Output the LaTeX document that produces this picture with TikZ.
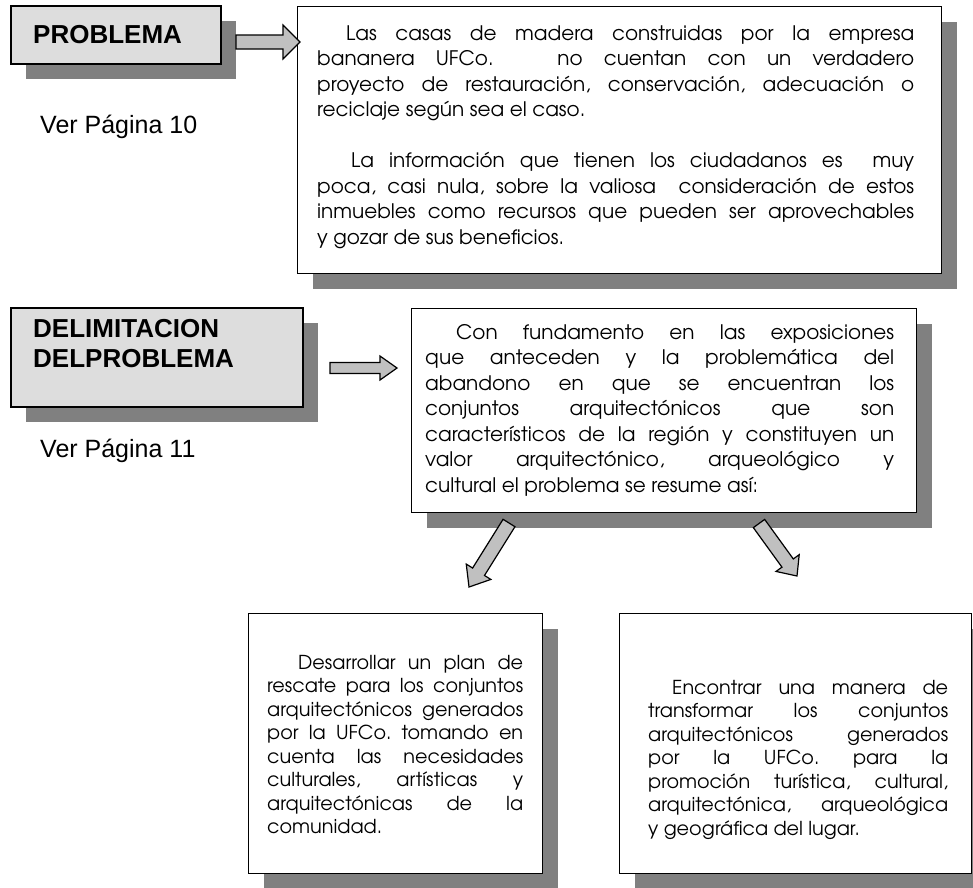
\documentclass[tikz,border=0pt]{standalone}
\usepackage{fontspec}
\setmainfont{Liberation Sans}
\newfontfamily\gothic{TeX Gyre Adventor}
\usetikzlibrary{calc,shadows}
\definecolor{shadowgray}{HTML}{808080}
\definecolor{labelgray}{HTML}{DDDDDD}
\definecolor{arrowgray}{HTML}{C0C0C0}
\frenchspacing
\newcommand\J[2]{\makebox[#1][s]{#2}}
\newcommand\blockarrow[5]{%
  \coordinate (#1-#2-h) at ($(#2)!#5!(#1)$);
  \draw[blockarrow] ($(#1)!#3!90:(#2)$) -- ($(#1-#2-h)!#3!90:(#2)$) -- ($(#1-#2-h)!#4!90:(#2)$) -- (#2) -- ($(#1-#2-h)!#4!-90:(#2)$) -- ($(#1-#2-h)!#3!-90:(#2)$) -- ($(#1)!#3!-90:(#2)$) -- cycle;}
\begin{document}
\begin{tikzpicture}[x=1pt,y=-1pt,
  shadowed/.style={drop shadow={shadow xshift=15pt,shadow yshift=-15pt,fill=shadowgray,opacity=1}},
  labelbox/.style={draw=black,line width=2.2pt,fill=labelgray,shadowed,anchor=north west,inner sep=0pt},
  textbox/.style={draw=black,line width=1.3pt,fill=white,shadowed,anchor=north west,inner sep=0pt},
  labeltext/.style={font=\fontsize{26}{30}\selectfont\bfseries,anchor=base west,inner sep=0pt},
  pagetext/.style={font=\fontsize{25}{30}\selectfont,anchor=base west,inner sep=0pt},
  body/.style={font=\gothic\frenchspacing\fontsize{20}{25.5}\selectfont,anchor=base west,inner sep=0pt},
  smallbody/.style={font=\gothic\frenchspacing\fontsize{19.2}{23.5}\selectfont,anchor=base west,inner sep=0pt},
  blockarrow/.style={draw=black,line width=1.2pt,fill=arrowgray,line join=miter}]
\useasboundingbox (0,0) rectangle (973,887);

% boxes
\node[labelbox,minimum width=210pt,minimum height=58pt] (pb) at (10,5) {};
\node[labelbox,minimum width=292pt,minimum height=99pt] (db) at (10,307) {};
\node[textbox,minimum width=644pt,minimum height=267pt] (tb) at (297,6) {};
\node[textbox,minimum width=505pt,minimum height=204pt] (mb) at (411,308) {};
\node[textbox,minimum width=294pt,minimum height=260pt] (lb) at (248,613) {};
\node[textbox,minimum width=352pt,minimum height=260pt] (rb) at (619,613) {};

% labels
\node[labeltext] (pl) at (33,43.5) {PROBLEMA};
\node[labeltext] (dl1) at (33,337) {DELIMITACION};
\node[labeltext] (dl2) at (33,367) {DELPROBLEMA};
\node[pagetext] (v1) at (40,133) {Ver Página 10};
\node[pagetext] (v2) at (40,457) {Ver Página 11};

% texts
\node[body] (tt) at (317,40) {\parbox[t]{597pt}{%
\J{597pt}{\hspace*{29pt}Las casas de madera construidas por la empresa}\\
\J{597pt}{bananera UFCo.\ \ \ no cuentan con un verdadero}\\
\J{597pt}{proyecto de restauración, conservación, adecuación o}\\
reciclaje según sea el caso.\\[25.5pt]
\J{597pt}{\hspace*{34pt}La información que tienen los ciudadanos es\ \ muy}\\
\J{597pt}{poca, casi nula, sobre la valiosa\ \ consideración de estos}\\
\J{597pt}{inmuebles como recursos que pueden ser aprovechables}\\
y gozar de sus beneficios.}};

\node[body] (mt) at (425,339) {\parbox[t]{469pt}{%
\J{469pt}{\hspace*{31pt}Con fundamento en las exposiciones}\\
\J{469pt}{que anteceden y la problemática del}\\
\J{469pt}{abandono en que se encuentran los}\\
\J{469pt}{conjuntos arquitectónicos que son}\\
\J{469pt}{característicos de la región y constituyen un}\\
\J{469pt}{valor arquitectónico, arqueológico y}\\
cultural el problema se resume así:}};

\node[smallbody] (lt) at (267,669) {\parbox[t]{256pt}{%
\J{256pt}{\hspace*{31pt}Desarrollar un plan de}\\
\J{256pt}{rescate para los conjuntos}\\
\J{256pt}{arquitectónicos generados}\\
\J{256pt}{por la UFCo. tomando en}\\
\J{256pt}{cuenta las necesidades}\\
\J{256pt}{culturales, artísticas y}\\
\J{256pt}{arquitectónicas de la}\\
comunidad.}};

\node[smallbody] (rt) at (648,694) {\parbox[t]{300pt}{%
\J{300pt}{\hspace*{24pt}Encontrar una manera de}\\
\J{300pt}{transformar los conjuntos}\\
\J{300pt}{arquitectónicos generados}\\
\J{300pt}{por la UFCo. para la}\\
\J{300pt}{promoción turística, cultural,}\\
\J{300pt}{arquitectónica, arqueológica}\\
y geográfica del lugar.}};

% block arrows
\coordinate (a1s) at (236,42);
\coordinate (a1e) at (300,42);
\coordinate (a2s) at (330,368);
\coordinate (a2e) at (397,368);
\coordinate (a3s) at (509,523);
\coordinate (a3e) at (469,587);
\coordinate (a4s) at (759,523.5);
\coordinate (a4e) at (797,576);
\blockarrow{a1s}{a1e}{7pt}{17pt}{17pt}
\blockarrow{a2s}{a2e}{5.5pt}{12pt}{17pt}
\blockarrow{a3s}{a3e}{7pt}{14.5pt}{18pt}
\blockarrow{a4s}{a4e}{7pt}{14.3pt}{16pt}
\end{tikzpicture}
\end{document}
